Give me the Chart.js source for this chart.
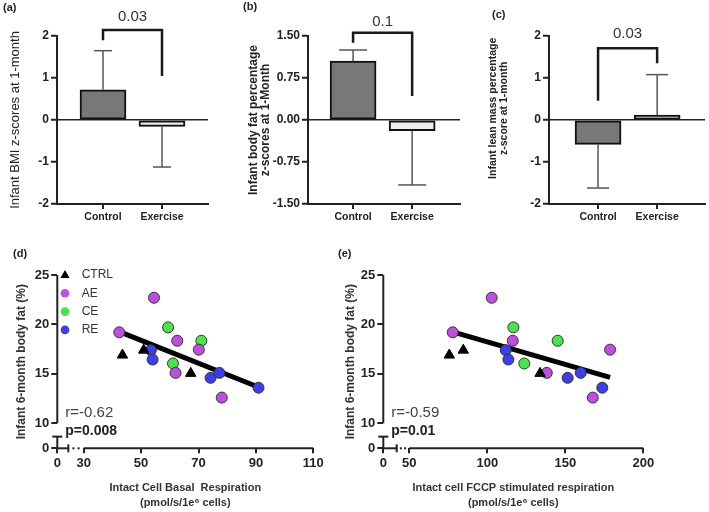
<!DOCTYPE html>
<html>
<head>
<meta charset="utf-8">
<script src="https://cdn.jsdelivr.net/npm/chart.js@4.4.1/dist/chart.umd.min.js"></script>
<style>
  body { margin: 0; background: #fff; }
  #wrap { position: relative; width: 709px; height: 512px; }
  canvas { position: absolute; }
</style>
</head>
<body>
<div id="wrap">
  <canvas id="pa" width="230" height="235" style="left:0;top:0"></canvas>
  <canvas id="pb" width="236" height="235" style="left:232px;top:0"></canvas>
  <canvas id="pc" width="241" height="235" style="left:468px;top:0"></canvas>
  <canvas id="pd" width="340" height="272" style="left:0;top:240px"></canvas>
  <canvas id="pe" width="374" height="272" style="left:335px;top:240px"></canvas>
</div>
<script>
// top row: group means and SD
const groups = ["Control", "Exercise"];
const bmiMean = [0.72, -0.15];
const bmiSd = [0.93, 0.97];
const fatZMean = [1.05, -0.19];
const fatZSd = [0.2, 0.97];
const leanMean = [-0.58, 0.12];
const leanSd = [1.04, 0.96];
const zTicks = [-2, -1, 0, 1, 2];
const fatZTicks = [-1.5, -0.75, 0, 0.75, 1.5];

// bottom row: infant 6-month body fat vs. respiration
const ctrlBasal = [43.5, 50.9, 67.3];
const ctrlFccp = [75.6, 84.6, 133.8];
const ctrlFat = [16.9, 17.4, 15.05];
const aeBasal = [42.4, 54.5, 62.6, 62.0, 70.1, 78.1];
const aeFccp = [77.8, 102.8, 116.3, 138.1, 178.7, 167.6];
const aeFat = [19.2, 22.7, 18.35, 15.1, 17.45, 12.6];
const ceBasal = [59.4, 61.1, 71.0];
const ceFccp = [116.7, 123.7, 145.1];
const ceFat = [19.7, 16.05, 18.35];
const reBasal = [53.4, 54.0, 74.2, 77.3, 90.9];
const reFccp = [111.8, 113.5, 151.5, 159.9, 173.7];
const reFat = [17.4, 16.45, 14.6, 15.1, 13.6];
const fitBasalX = [42.6, 91.0];
const fitBasalY = [19.25, 13.65];
const fitFccpX = [77.8, 178.7];
const fitFccpY = [19.25, 14.65];
const fatTicks = [10, 15, 20, 25];
const basalTicks = [30, 50, 70, 90, 110];
const fccpTicks = [50, 100, 150, 200];

const FONT = "'Liberation Sans', Arial, sans-serif";
Chart.defaults.font.family = FONT;
Chart.defaults.color = "#222";

const INK = "#222";

function line(ctx, x1, y1, x2, y2) {
  ctx.beginPath();
  ctx.moveTo(x1, y1);
  ctx.lineTo(x2, y2);
  ctx.stroke();
}

// error bars, significance bracket and panel letter
const barDeco = {
  id: "barDeco",
  afterDatasetsDraw(chart, args, o) {
    const { ctx, scales: { x, y } } = chart;
    const data = chart.data.datasets[0].data;
    ctx.save();
    ctx.strokeStyle = "#555";
    ctx.lineWidth = 1.5;
    data.forEach((d, i) => {
      const px = x.getPixelForValue(d.x);
      const y0 = y.getPixelForValue(d.y);
      const y1 = y.getPixelForValue(d.y + Math.sign(d.y) * o.sd[i]);
      line(ctx, px, y0, px, y1);
      line(ctx, px - o.cap / 2, y1, px + o.cap / 2, y1);
    });

    const xl = x.getPixelForValue(1), xr = x.getPixelForValue(2);
    const yt = y.getPixelForValue(o.top);
    ctx.strokeStyle = "#1a1a1a";
    ctx.lineWidth = 2.5;
    ctx.beginPath();
    ctx.moveTo(xl, y.getPixelForValue(o.leftEnd));
    ctx.lineTo(xl, yt);
    ctx.lineTo(xr, yt);
    ctx.lineTo(xr, y.getPixelForValue(o.rightEnd));
    ctx.stroke();

    ctx.fillStyle = "#333";
    ctx.font = "15px " + FONT;
    ctx.textAlign = "center";
    ctx.textBaseline = "middle";
    ctx.fillText(o.p, (xl + xr) / 2, y.getPixelForValue(o.textAt));

    ctx.fillStyle = INK;
    ctx.font = "bold 11px " + FONT;
    ctx.textAlign = "left";
    ctx.fillText(o.label, o.lx, o.ly);
    ctx.restore();
  }
};

function barPanel(id, means, sds, yMin, yMax, yTicks, fmt, o) {
  new Chart(document.getElementById(id), {
    type: "bar",
    data: {
      datasets: [{
        data: means.map((v, i) => ({ x: i + 1, y: v })),
        backgroundColor: ["#787878", "#efefef"],
        borderColor: "#111",
        borderWidth: 2,
        borderSkipped: false,
        barThickness: 46
      }]
    },
    options: {
      responsive: false,
      animation: false,
      layout: { padding: { top: 36, right: o.right, left: 0, bottom: 0 } },
      plugins: {
        legend: { display: false },
        tooltip: { enabled: false },
        barDeco: Object.assign({ sd: sds }, o.deco)
      },
      scales: {
        x: {
          type: "linear",
          min: o.xMin,
          max: o.xMax,
          offset: false,
          afterBuildTicks: (s) => { s.ticks = groups.map((g, i) => ({ value: i + 1 })); },
          afterFit: (s) => { s.height = 31; },
          ticks: {
            callback: (v, i) => groups[i],
            font: { size: 10.5, weight: "bold" },
            color: INK,
            padding: 2,
            maxRotation: 0,
            autoSkip: false
          },
          grid: { drawOnChartArea: false, offset: false, tickLength: 5, tickColor: INK, lineWidth: 2 },
          border: { color: INK, width: 2 }
        },
        y: {
          min: yMin,
          max: yMax,
          afterBuildTicks: (s) => { s.ticks = yTicks.map((v) => ({ value: v })); },
          afterFit: (s) => { s.width = o.yWidth; },
          ticks: { callback: fmt, font: { size: 12, weight: "bold" }, color: INK, padding: 2 },
          grid: {
            color: (c) => (c.tick && c.tick.value === 0 ? INK : "rgba(0,0,0,0)"),
            lineWidth: 1.5,
            tickColor: INK,
            tickWidth: 2,
            tickLength: 6
          },
          border: { color: INK, width: 2 },
          title: {
            display: true,
            text: o.title,
            font: o.titleFont,
            color: INK,
            padding: { top: o.titlePad, bottom: 0 }
          }
        }
      }
    },
    plugins: [barDeco]
  });
}

barPanel("pa", bmiMean, bmiSd, -2, 2, zTicks, (v) => v, {
  right: 22, yWidth: 57, xMin: 0.22, xMax: 2.78,
  title: "Infant BMI z-scores at 1-month",
  titleFont: { size: 13, lineHeight: 1.2 }, titlePad: 7.2,
  deco: { cap: 18, top: 2.14, leftEnd: 1.9, rightEnd: 1.05, textAt: 2.45, p: "0.03", label: "(a)", lx: 3, ly: 7.5 }
});
barPanel("pb", fatZMean, fatZSd, -1.5, 1.5, fatZTicks, (v) => v.toFixed(2), {
  right: 8, yWidth: 76, xMin: 0.237, xMax: 2.81,
  title: ["Infant body fat percentage", "z-scores at 1-Month"],
  titleFont: { size: 12, weight: "bold", lineHeight: 1.05 }, titlePad: 15,
  deco: { cap: 28, top: 1.56, leftEnd: 1.38, rightEnd: 0.43, textAt: 1.755, p: "0.1", label: "(b)", lx: 11, ly: 6.5 }
});
// leading spaces move the (c) title up a little, as in the figure
barPanel("pc", leanMean, leanSd, -2, 2, zTicks, (v) => v, {
  right: 4, yWidth: 81, xMin: 0.17, xMax: 2.81,
  title: ["        Infant lean mass percentage", "        z-score at 1-month"],
  titleFont: { size: 10.5, weight: "bold", lineHeight: 1.1 }, titlePad: 19.2,
  deco: { cap: 22, top: 1.71, leftEnd: 0.46, rightEnd: 1.35, textAt: 2.06, p: "0.03", label: "(c)", lx: 24, ly: 15 }
});

// broken axes, legend, r/p text and panel letter for the scatter plots
const scatterDeco = {
  id: "scatterDeco",
  afterDraw(chart, args, o) {
    const { ctx, chartArea: a, scales: { x, y } } = chart;
    ctx.save();
    ctx.strokeStyle = INK;
    ctx.lineWidth = 2;
    const x0 = a.left, y0 = a.bottom;
    // y axis: main part and short stub down to 0
    line(ctx, x0, y.getPixelForValue(o.yStart), x0, a.top);
    const ys = y.getPixelForValue(o.yStub);
    line(ctx, x0, y0, x0, ys);
    line(ctx, x0 - 5, ys, x0 + 5, ys);
    // x axis: stub from 0, dots, main part
    const xs = x.getPixelForValue(o.xStub);
    const xm = x.getPixelForValue(o.xStart);
    line(ctx, x0, y0, xs, y0);
    line(ctx, xs, y0 - 4, xs, y0 + 4);
    line(ctx, xm, y0, a.right, y0);
    ctx.fillStyle = INK;
    [1 / 3, 2 / 3].forEach((f) => {
      ctx.fillRect(xs + (xm - xs) * f - 1, y0 - 1, 2, 2);
    });

    if (o.legend) {
      chart.data.datasets.forEach((ds, i) => {
        if (ds.showLine) return;
        const k = i - 1;
        const cy = a.top + k * 18.3;
        const cx = a.left + 7.7;
        ctx.fillStyle = ds.backgroundColor;
        ctx.beginPath();
        if (ds.pointStyle === "triangle") {
          ctx.moveTo(cx, cy - 5);
          ctx.lineTo(cx + 4.6, cy + 3);
          ctx.lineTo(cx - 4.6, cy + 3);
          ctx.closePath();
        } else {
          ctx.arc(cx, cy, 4.3, 0, Math.PI * 2);
        }
        ctx.fill();
        ctx.fillStyle = "#333";
        ctx.font = "12px " + FONT;
        ctx.textAlign = "left";
        ctx.textBaseline = "middle";
        ctx.fillText(ds.label, a.left + 24.4, cy);
      });
    }

    ctx.textAlign = "left";
    ctx.textBaseline = "middle";
    ctx.fillStyle = "#444";
    ctx.font = "15px " + FONT;
    ctx.fillText(o.r, a.left + 8, a.bottom - 35);
    ctx.fillStyle = INK;
    ctx.font = "bold 14px " + FONT;
    ctx.fillText(o.p, a.left + 8, a.bottom - 17.6);

    ctx.font = "bold 11px " + FONT;
    ctx.fillText(o.label, o.lx, o.ly);
    ctx.restore();
  }
};

const pts = (xv, yv) => xv.map((v, i) => ({ x: v, y: yv[i] }));

function groupSet(label, xv, yv, color, style) {
  return {
    label: label,
    data: pts(xv, yv),
    pointStyle: style,
    pointRadius: style === "triangle" ? 6 : 5.5,
    backgroundColor: color,
    borderColor: style === "triangle" ? "#000" : "#333",
    borderWidth: 1,
    order: 0
  };
}

function scatterPanel(id, xs, fitX, fitY, xMin, xMax, xTicks, o) {
  new Chart(document.getElementById(id), {
    type: "scatter",
    data: {
      datasets: [
        {
          label: "fit",
          data: pts(fitX, fitY),
          showLine: true,
          borderColor: "#000",
          borderWidth: 5,
          pointRadius: 0,
          order: 1
        },
        groupSet("CTRL", xs[0], ctrlFat, "#000", "triangle"),
        groupSet("AE", xs[1], aeFat, "#c24ce3", "circle"),
        groupSet("CE", xs[2], ceFat, "#45e645", "circle"),
        groupSet("RE", xs[3], reFat, "#3c3cf0", "circle")
      ]
    },
    options: {
      responsive: false,
      animation: false,
      layout: { padding: { top: 35, right: o.right, left: 0, bottom: 0 } },
      plugins: {
        legend: { display: false },
        tooltip: { enabled: false },
        scatterDeco: o.deco
      },
      scales: {
        x: {
          min: xMin,
          max: xMax,
          afterBuildTicks: (s) => { s.ticks = [s.min].concat(xTicks).map((v) => ({ value: v })); },
          afterFit: (s) => { s.height = 63.7; },
          ticks: {
            callback: (v, i) => (i === 0 ? "0" : v),
            font: { size: 13, weight: "bold" },
            color: INK,
            padding: 2,
            maxRotation: 0,
            autoSkip: false
          },
          grid: { drawOnChartArea: false, tickLength: 5, tickColor: INK, lineWidth: 2 },
          border: { display: false },
          title: {
            display: true,
            text: o.xTitle,
            font: { size: 11, weight: "bold", lineHeight: 1.36 },
            color: "#333",
            padding: { top: 0, bottom: 1.2 }
          }
        },
        y: {
          min: 7.47,
          max: 25,
          afterBuildTicks: (s) => { s.ticks = [s.min].concat(fatTicks).map((v) => ({ value: v })); },
          afterFit: (s) => { s.width = o.yWidth; },
          ticks: {
            callback: (v, i) => (i === 0 ? "0" : v),
            font: { size: 13, weight: "bold" },
            color: INK,
            padding: 2
          },
          grid: { drawOnChartArea: false, tickLength: 6, tickColor: INK, lineWidth: 2 },
          border: { display: false },
          title: {
            display: true,
            text: "Infant 6-month body fat (%)",
            font: { size: 12, weight: "bold", lineHeight: 1.2 },
            color: "#333",
            padding: { top: o.titlePad, bottom: 0 }
          }
        }
      }
    },
    plugins: [scatterDeco]
  });
}

scatterPanel("pd", [ctrlBasal, aeBasal, ceBasal, reBasal], fitBasalX, fitBasalY, 20.8, 110, basalTicks, {
  right: 26.7, yWidth: 57.3, titlePad: 14.5,
  xTitle: ["Intact Cell Basal  Respiration", "(pmol/s/1e\u2076 cells)"],
  deco: { xStub: 24.65, xStart: 30, yStub: 8.65, yStart: 10, legend: true,
    r: "r=-0.62", p: "p=0.008", label: "(d)", lx: 13, ly: 13.5 }
});
scatterPanel("pe", [ctrlFccp, aeFccp, ceFccp, reFccp], fitFccpX, fitFccpY, 33.3, 200, fccpTicks, {
  right: 65.7, yWidth: 48.3, titlePad: 8.8,
  xTitle: ["Intact cell FCCP stimulated respiration", "(pmol/s/1e\u2076 cells)"],
  deco: { xStub: 41.9, xStart: 50, yStub: 8.65, yStart: 10, legend: false,
    r: "r=-0.59", p: "p=0.01", label: "(e)", lx: 3, ly: 13.5 }
});
</script>
</body>
</html>
